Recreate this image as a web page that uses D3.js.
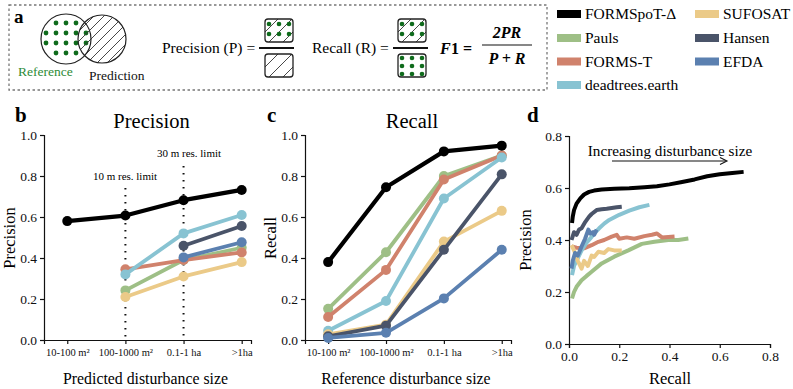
<!DOCTYPE html>
<html><head><meta charset="utf-8">
<script src="https://cdn.jsdelivr.net/npm/d3@7"></script>
<style>
body{margin:0;background:#fff;}
svg{display:block;}
</style></head>
<body><svg id="c" width="793" height="389"></svg>
<script>
// ---------- data ----------
const seriesNames = ["FORMSpoT-Δ","Pauls","FORMS-T","deadtrees.earth","SUFOSAT","Hansen","EFDA"];
const seriesColors = ["#000000","#9ebf86","#d0826c","#88c3d2","#ebca88","#4a5469","#5b80b0"];
const sizeCats = ["10-100 m²","100-1000 m²","0.1-1 ha",">1ha"];
const yTicks1 = [0,0.2,0.4,0.6,0.8,1.0];
const yTicksD = [0,0.2,0.4,0.6,0.8];
const xTicksD = [0,0.2,0.4,0.6,0.8];
// Precision per predicted size (null = not available)
const precFORMSpoT = [0.58,0.607,0.682,0.732];
const precPauls    = [null,0.242,0.39,0.45];
const precFORMST   = [null,0.345,0.39,0.427];
const precDeadtrees= [null,0.32,0.52,0.61];
const precSUFOSAT  = [null,0.21,0.31,0.38];
const precHansen   = [null,null,0.46,0.556];
const precEFDA     = [null,null,0.403,0.477];
// Recall per reference size
const recFORMSpoT = [0.38,0.745,0.92,0.948];
const recPauls    = [0.152,0.428,0.80,0.90];
const recFORMST   = [0.112,0.342,0.783,0.90];
const recDeadtrees= [0.045,0.19,0.69,0.89];
const recSUFOSAT  = [0.028,0.075,0.48,0.63];
const recHansen   = [0.018,0.07,0.44,0.808];
const recEFDA     = [0.01,0.035,0.203,0.44];
// Precision-recall curves [recall, precision]
const prFORMSpoT = [[0.012,0.465],[0.015,0.49],[0.02,0.515],[0.03,0.54],[0.045,0.56],[0.06,0.575],[0.08,0.585],[0.1,0.59],[0.13,0.594],[0.18,0.597],[0.24,0.599],[0.3,0.603],[0.35,0.607],[0.4,0.614],[0.45,0.623],[0.5,0.633],[0.55,0.645],[0.6,0.653],[0.65,0.658],[0.695,0.662]];
const prPauls = [[0.012,0.175],[0.02,0.2],[0.03,0.22],[0.05,0.245],[0.07,0.262],[0.09,0.278],[0.13,0.31],[0.18,0.336],[0.236,0.36],[0.29,0.385],[0.34,0.393],[0.395,0.4],[0.435,0.4],[0.475,0.406]];
const prFORMST = [[0.01,0.375],[0.03,0.37],[0.06,0.368],[0.09,0.38],[0.117,0.393],[0.14,0.4],[0.17,0.413],[0.19,0.42],[0.2,0.405],[0.23,0.41],[0.26,0.405],[0.3,0.415],[0.33,0.42],[0.35,0.425],[0.37,0.41],[0.42,0.413]];
const prDeadtrees = [[0.012,0.265],[0.02,0.3],[0.035,0.33],[0.05,0.36],[0.07,0.39],[0.085,0.406],[0.1,0.425],[0.12,0.445],[0.14,0.463],[0.16,0.477],[0.2,0.497],[0.24,0.513],[0.28,0.526],[0.32,0.535]];
const prSUFOSAT = [[0.01,0.38],[0.02,0.36],[0.035,0.32],[0.05,0.29],[0.06,0.32],[0.075,0.3],[0.09,0.34],[0.1,0.335],[0.117,0.355],[0.14,0.35],[0.157,0.365],[0.18,0.36],[0.21,0.36]];
const prHansen = [[0.01,0.4],[0.02,0.43],[0.03,0.42],[0.04,0.44],[0.05,0.445],[0.065,0.47],[0.08,0.49],[0.09,0.5],[0.11,0.515],[0.13,0.518],[0.15,0.52],[0.17,0.523],[0.19,0.526],[0.21,0.528]];
const prEFDA = [[0.01,0.29],[0.015,0.32],[0.024,0.35],[0.035,0.34],[0.05,0.375],[0.064,0.405],[0.077,0.44],[0.085,0.425],[0.095,0.43],[0.1,0.42],[0.11,0.44]];

const precAll = [precFORMSpoT,precPauls,precFORMST,precDeadtrees,precSUFOSAT,precHansen,precEFDA];
const recAll  = [recFORMSpoT,recPauls,recFORMST,recDeadtrees,recSUFOSAT,recHansen,recEFDA];
const prAll   = [prFORMSpoT,prPauls,prFORMST,prDeadtrees,prSUFOSAT,prHansen,prEFDA];
const drawOrder = [1,2,3,4,5,6,0];
const FONT = "'Liberation Serif'";

const svg = d3.select("#c");

// ---------- panel a ----------
const defs = svg.append("defs");
defs.append("clipPath").attr("id","predClip").append("circle").attr("cx",102).attr("cy",39).attr("r",24);
const gA = svg.append("g");
gA.append("rect").attr("x",9).attr("y",5).attr("width",538).attr("height",85)
  .attr("fill","none").attr("stroke","#777").attr("stroke-width",1.3).attr("stroke-dasharray","2.5,2.5");
gA.append("text").attr("x",14).attr("y",23).attr("font-size",19).attr("font-weight","bold").text("a");

function hatch(g, x0,y0,x1,y1, step){
  for(let k=-60;k<=120;k+=step){
    g.append("line").attr("x1",x0+k).attr("y1",y1).attr("x2",x0+k+(y1-y0)).attr("y2",y0)
      .attr("stroke","#333").attr("stroke-width",0.9);
  }
}
const dotsG = gA.append("g");
[46,56,66,76,86].forEach(x=>[23,33,43,53].forEach(y=>{
  if (Math.hypot(x-66,y-38)<22) dotsG.append("circle").attr("cx",x).attr("cy",y).attr("r",2.4).attr("fill","#0f6b1c");
}));
const hG = gA.append("g").attr("clip-path","url(#predClip)");
hatch(hG,60,10,150,70,10);
gA.append("circle").attr("cx",66).attr("cy",39).attr("r",25).attr("fill","none").attr("stroke","#222").attr("stroke-width",1.2);
gA.append("circle").attr("cx",102).attr("cy",39).attr("r",24).attr("fill","none").attr("stroke","#222").attr("stroke-width",1.2);
gA.append("text").attr("x",18).attr("y",76).attr("font-size",13.5).attr("fill","#2e8b37").text("Reference");
gA.append("text").attr("x",89).attr("y",80).attr("font-size",13.5).attr("fill","#111").text("Prediction");

function box(x,y,w,h,withHatch,dotCols,dotRows,id){
  defs.append("clipPath").attr("id",id).append("rect").attr("x",x).attr("y",y).attr("width",w).attr("height",h).attr("rx",3);
  const g = gA.append("g");
  const inner = g.append("g").attr("clip-path",`url(#${id})`);
  if(withHatch){
    [-10,4,18,32].forEach(k=>inner.append("line").attr("x1",x+k).attr("y1",y+h).attr("x2",x+k+h).attr("y2",y)
      .attr("stroke","#333").attr("stroke-width",0.9));
  }
  dotCols.forEach(dx=>dotRows.forEach(dy=>inner.append("circle").attr("cx",x+dx).attr("cy",y+dy).attr("r",2.3).attr("fill","#0f6b1c")));
  g.append("rect").attr("x",x).attr("y",y).attr("width",w).attr("height",h).attr("rx",3)
    .attr("fill","none").attr("stroke","#222").attr("stroke-width",1.3);
}
gA.append("text").attr("x",162).attr("y",53).attr("font-size",15.5).text("Precision (P) =");
box(265,19,28,23,true,[4,14,24],[5,15],"b1");
gA.append("line").attr("x1",259).attr("x2",294).attr("y1",48).attr("y2",48).attr("stroke","#111").attr("stroke-width",2.2);
box(265,54,28,23,true,[],[],"b2");
gA.append("text").attr("x",312).attr("y",53).attr("font-size",15.5).text("Recall (R) =");
box(398,19,28,23,true,[4,14,24],[5,15],"b3");
gA.append("line").attr("x1",393).attr("x2",428).attr("y1",48).attr("y2",48).attr("stroke","#111").attr("stroke-width",2.2);
box(398,54,28,23,false,[4,14,24],[4,12,20],"b4");
gA.append("text").attr("x",440).attr("y",54).attr("font-size",16).attr("font-style","italic").attr("font-weight","bold").text("F");
gA.append("text").attr("x",451).attr("y",54).attr("font-size",16).attr("font-weight","bold").text("1 =");
gA.append("text").attr("x",507).attr("y",38).attr("text-anchor","middle").attr("font-size",16).attr("font-style","italic").attr("font-weight","bold").text("2PR");
gA.append("line").attr("x1",482).attr("x2",532).attr("y1",45).attr("y2",45).attr("stroke","#111").attr("stroke-width",1.2);
gA.append("text").attr("x",507).attr("y",64).attr("text-anchor","middle").attr("font-size",16).attr("font-style","italic").attr("font-weight","bold").text("P + R");

// ---------- legend ----------
const legPos = [[557,14],[557,38],[557,61.5],[557,85],[695,14],[695,38],[695,61.5]];
seriesNames.forEach((n,i)=>{
  const [lx,ly]=legPos[i];
  svg.append("rect").attr("x",lx).attr("y",ly-4).attr("width",24).attr("height",8).attr("fill",seriesColors[i]);
  svg.append("text").attr("x",lx+28).attr("y",ly+5).attr("font-size",15.5).text(n);
});

// ---------- panels b, c ----------
function catPanel(x0,x1,vals,title,xtitle,ytitle,letter,letterX,isPrec){
  const x = d3.scaleLinear().domain([-0.4,3.16]).range([x0,x1]);
  const y = d3.scaleLinear().domain([0,1]).range([340,135]);
  const g = svg.append("g");
  const ax = g.append("g").attr("transform","translate(0,340)")
    .call(d3.axisBottom(x).tickValues([0,1,2,3]).tickFormat(i=>sizeCats[i]).tickSizeOuter(0).tickSize(4));
  ax.selectAll("text").attr("font-size",10.5).attr("fill","#111").attr("dy","0.9em");
  const ay = g.append("g").attr("transform",`translate(${x0},0)`)
    .call(d3.axisLeft(y).tickValues(yTicks1).tickFormat(d3.format(".1f")).tickSizeOuter(0).tickSize(4));
  ay.selectAll("text").attr("font-size",13.5).attr("fill","#111");
  [ax,ay].forEach(a=>{a.select(".domain").attr("stroke","#111").attr("stroke-width",1.2);a.selectAll(".tick line").attr("stroke","#111").attr("stroke-width",1.2);});
  if(isPrec){
    [[1,188,"10 m res. limit",125,180],[2,166,"30 m res. limit",189,157]].forEach(([c,top,lab,tx,ty])=>{
      g.append("line").attr("x1",x(c)).attr("x2",x(c)).attr("y1",top).attr("y2",340)
        .attr("stroke","#111").attr("stroke-width",2).attr("stroke-dasharray","1.5,5.5");
      g.append("text").attr("x",tx).attr("y",ty).attr("text-anchor","middle").attr("font-size",11).text(lab);
    });
  }
  const line = d3.line().defined(d=>d[1]!==null).x(d=>x(d[0])).y(d=>y(d[1]));
  drawOrder.forEach(si=>{
    const pts = vals[si].map((v,i)=>[i,v]);
    g.append("path").attr("d",line(pts)).attr("fill","none").attr("stroke",seriesColors[si])
      .attr("stroke-width",si===0?4.2:3.8).attr("stroke-linejoin","round");
    g.selectAll(null).data(pts.filter(d=>d[1]!==null)).enter().append("circle")
      .attr("cx",d=>x(d[0])).attr("cy",d=>y(d[1])).attr("r",5).attr("fill",seriesColors[si]);
  });
  g.append("text").attr("x",(x0+x1)/2+4).attr("y",128).attr("text-anchor","middle").attr("font-size",20.5).text(title);
  g.append("text").attr("x",(x0+x1)/2-2).attr("y",384).attr("text-anchor","middle").attr("font-size",15.8).text(xtitle);
  g.append("text").attr("transform",`translate(${x0-29},238) rotate(-90)`).attr("text-anchor","middle").attr("font-size",16.5).text(ytitle);
  g.append("text").attr("x",letterX).attr("y",122).attr("font-size",21).attr("font-weight","bold").text(letter);
}
catPanel(44,251,precAll,"Precision","Predicted disturbance size","Precision","b",15,true);
catPanel(305,511,recAll,"Recall","Reference disturbance size","Recall","c",267,false);

// ---------- panel d ----------
{
  const x = d3.scaleLinear().domain([0,0.8]).range([569,770]);
  const y = d3.scaleLinear().domain([0,0.8]).range([344,136]);
  const g = svg.append("g");
  const ax = g.append("g").attr("transform","translate(0,344)")
    .call(d3.axisBottom(x).tickValues(xTicksD).tickFormat(d3.format(".1f")).tickSizeOuter(0).tickSize(4));
  ax.selectAll("text").attr("font-size",13.5).attr("fill","#111");
  const ay = g.append("g").attr("transform","translate(569,0)")
    .call(d3.axisLeft(y).tickValues(yTicksD).tickFormat(d3.format(".1f")).tickSizeOuter(0).tickSize(4));
  ay.selectAll("text").attr("font-size",13.5).attr("fill","#111");
  [ax,ay].forEach(a=>{a.select(".domain").attr("stroke","#111").attr("stroke-width",1.2);a.selectAll(".tick line").attr("stroke","#111").attr("stroke-width",1.2);});
  const line = d3.line().x(d=>x(d[0])).y(d=>y(d[1])).curve(d3.curveLinear);
  drawOrder.forEach(si=>{
    g.append("path").attr("d",line(prAll[si])).attr("fill","none").attr("stroke",seriesColors[si])
      .attr("stroke-width",4).attr("stroke-linejoin","round").attr("stroke-linecap","butt");
  });
  g.append("text").attr("x",670).attr("y",156).attr("text-anchor","middle").attr("font-size",15.2).text("Increasing disturbance size");
  g.append("line").attr("x1",612).attr("x2",726).attr("y1",161).attr("y2",161).attr("stroke","#111").attr("stroke-width",1.1);
  g.append("path").attr("d","M720,157.5 L727,161 L720,164.5").attr("fill","none").attr("stroke","#111").attr("stroke-width",1.1);
  g.append("text").attr("x",670).attr("y",384).attr("text-anchor","middle").attr("font-size",16.5).text("Recall");
  g.append("text").attr("transform","translate(531,240) rotate(-90)").attr("text-anchor","middle").attr("font-size",16.5).text("Precision");
  g.append("text").attr("x",527).attr("y",122).attr("font-size",21).attr("font-weight","bold").text("d");
}
svg.selectAll("text").style("font-family",FONT);
</script></body></html>
